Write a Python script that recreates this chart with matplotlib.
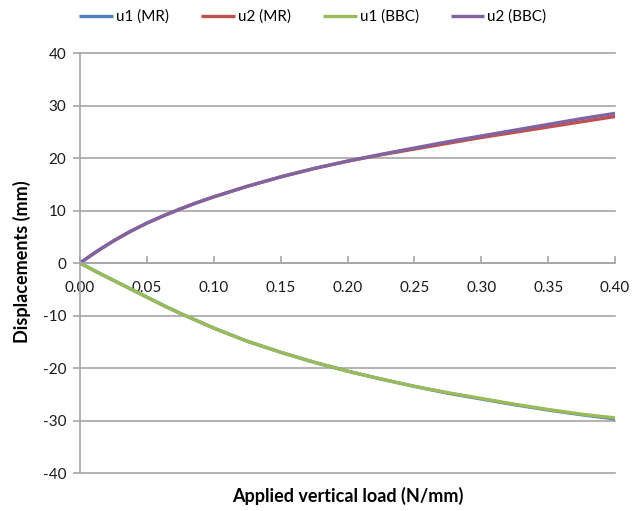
import matplotlib.pyplot as plt

# applied load (N/mm) and displacements (mm)
load = [0.0, 0.0125, 0.025, 0.0375, 0.05, 0.0625, 0.075, 0.0875, 0.10,
        0.125, 0.15, 0.175, 0.20, 0.225, 0.25, 0.275, 0.30, 0.325, 0.35,
        0.375, 0.40]
u1_mr = [0.0, -1.7, -3.3, -4.9, -6.5, -8.1, -9.6, -11.0, -12.4,
         -14.9, -17.0, -18.9, -20.6, -22.1, -23.5, -24.8, -25.9, -27.0,
         -28.0, -28.9, -29.7]
u2_mr = [0.0, 2.2, 4.2, 6.0, 7.6, 9.0, 10.3, 11.5, 12.6,
         14.6, 16.4, 18.0, 19.4, 20.6, 21.7, 22.8, 23.9, 24.9, 25.9,
         26.9, 27.9]
u1_bbc = [0.0, -1.7, -3.3, -4.9, -6.5, -8.1, -9.6, -11.0, -12.4,
          -14.9, -17.0, -18.9, -20.6, -22.1, -23.5, -24.7, -25.8, -26.9,
          -27.9, -28.8, -29.5]
u2_bbc = [0.0, 2.2, 4.2, 6.0, 7.6, 9.0, 10.3, 11.5, 12.6,
          14.6, 16.4, 18.0, 19.4, 20.7, 21.9, 23.1, 24.2, 25.3, 26.4,
          27.5, 28.5]

series = [
    ("u1 (MR)", u1_mr, "#4F81BD"),
    ("u2 (MR)", u2_mr, "#C0504D"),
    ("u1 (BBC)", u1_bbc, "#9BBB59"),
    ("u2 (BBC)", u2_bbc, "#8064A2"),
]

plt.rcParams['font.family'] = ['Lato', 'DejaVu Sans']
plt.rcParams['axes.unicode_minus'] = False
grid_col = "#A6A6A6"

fig = plt.figure(figsize=(6.44, 5.11), dpi=100)
ax = fig.add_axes([80 / 644, 1 - 473 / 511, 535 / 644, 420 / 511])

for name, vals, col in series:
    ax.plot(load, vals, color=col, lw=2.4, label=name, solid_capstyle='butt',
            solid_joinstyle='round')

ax.set_xlim(0, 0.40)
ax.set_ylim(-40, 40)
ax.set_xticks([i * 0.05 for i in range(9)])
ax.set_yticks(range(-40, 41, 10))
ax.set_xticklabels([f"{i * 0.05:.2f}" for i in range(9)])

ax.yaxis.grid(True, color=grid_col, lw=1.2)
for gl in ax.get_ygridlines():
    gl.set_clip_on(False)
ax.set_axisbelow(True)

for s in ['top', 'right']:
    ax.spines[s].set_visible(False)
ax.spines['bottom'].set_position(('data', 0))
ax.spines['bottom'].set_color(grid_col)
ax.spines['left'].set_color(grid_col)
ax.spines['bottom'].set_linewidth(1.2)
ax.spines['left'].set_linewidth(1.2)

ax.tick_params(axis='x', direction='in', length=5, width=1.2, color=grid_col,
               pad=13, labelsize=11, labelcolor='#1a1a1a')
ax.tick_params(axis='y', direction='out', length=5, width=1.2, color=grid_col,
               pad=5, labelsize=11, labelcolor='#1a1a1a')

fig.text(0.5 * (80 + 615) / 644, 1 - 496 / 511, "Applied vertical load (N/mm)",
         ha='center', va='center', fontsize=13, fontweight='bold')
fig.text(22 / 644, 1 - 262 / 511, "Displacements (mm)", rotation=90,
         ha='center', va='center', fontsize=13, fontweight='bold')

fig.legend(loc='center', bbox_to_anchor=(313 / 644, 1 - 17 / 511), ncol=4,
           frameon=False, fontsize=11, handlelength=2.2, handletextpad=0.2,
           columnspacing=2.1)

fig.savefig("out.png", dpi=100)
